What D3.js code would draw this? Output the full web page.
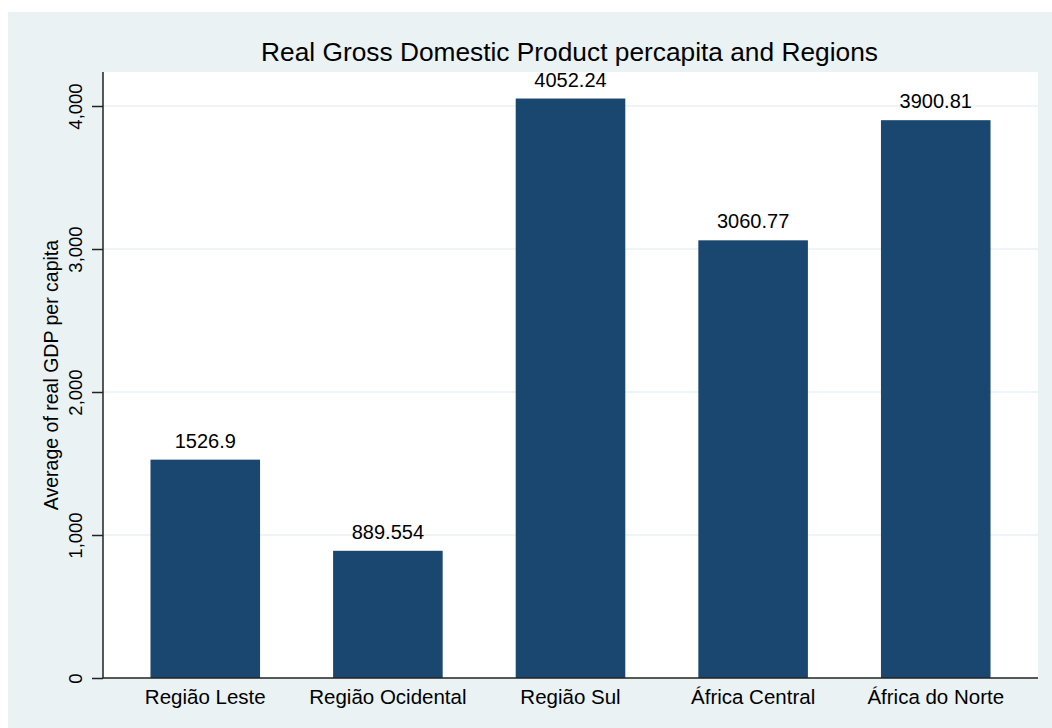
<!DOCTYPE html>
<html>
<head>
<meta charset="utf-8">
<script src="https://cdn.jsdelivr.net/npm/d3@7"></script>
<style>
html,body{margin:0;padding:0;background:#fff;}
svg{display:block;font-family:"Liberation Sans",Arial,sans-serif;}
</style>
</head>
<body>
<svg id="chart" width="1052" height="728"></svg>
<script>
const categories = ["Região Leste","Região Ocidental","Região Sul","África Central","África do Norte"];
const values = [1526.9, 889.554, 4052.24, 3060.77, 3900.81];
const valueLabels = ["1526.9","889.554","4052.24","3060.77","3900.81"];
const yTicks = [0, 1000, 2000, 3000, 4000];
const titleText = "Real Gross Domestic Product percapita and Regions";
const yTitleText = "Average of real GDP per capita";

const svg = d3.select("#chart");
const W = 1052, H = 728;
const plot = {left:103, right:1038, top:72, bottom:678};

svg.append("rect").attr("x",8).attr("y",12).attr("width",W-8).attr("height",H-12).attr("fill","#eaf2f3");
svg.append("rect").attr("x",plot.left).attr("y",plot.top)
  .attr("width",plot.right-plot.left).attr("height",plot.bottom-plot.top).attr("fill","#ffffff");

const x = d3.scaleBand().domain(categories).range([plot.left, plot.right])
  .paddingInner(0.4).paddingOuter(0.26);
const y = d3.scaleLinear().domain([0, 4000]).range([plot.bottom, plot.bottom - 4000*0.143]);

// gridlines
svg.append("g").selectAll("line").data(yTicks.filter(d=>d>0)).join("line")
  .attr("x1",plot.left).attr("x2",plot.right)
  .attr("y1",d=>y(d)).attr("y2",d=>y(d))
  .attr("stroke","#eaf2f3").attr("stroke-width",1.5);

// bars
svg.append("g").selectAll("rect").data(categories).join("rect")
  .attr("x",d=>x(d)).attr("width",x.bandwidth())
  .attr("y",(d,i)=>y(values[i])).attr("height",(d,i)=>y(0)-y(values[i]))
  .attr("fill","#1a476f");

// value labels
svg.append("g").selectAll("text").data(categories).join("text")
  .attr("x",d=>x(d)+x.bandwidth()/2)
  .attr("y",(d,i)=>y(values[i])-12)
  .attr("text-anchor","middle").attr("font-size",20).attr("fill","#000")
  .text((d,i)=>valueLabels[i]);

// y axis
const yAxis = d3.axisLeft(y).tickValues(yTicks).tickSize(11).tickPadding(0)
  .tickFormat(d3.format(","));
const gy = svg.append("g").attr("transform",`translate(${plot.left},0)`).call(yAxis);
gy.select(".domain").attr("d",`M0,${plot.top}V${plot.bottom}`).attr("stroke","#222").attr("stroke-width",1.5);
gy.selectAll(".tick line").attr("stroke","#222").attr("stroke-width",1.5);
gy.selectAll(".tick text")
  .attr("x",null).attr("dy",null)
  .attr("transform","translate(-21,0) rotate(-90)")
  .attr("text-anchor","middle").attr("font-size",18.5).attr("fill","#000")
  .attr("font-family","Liberation Sans, Arial, sans-serif");

// x axis
const xAxis = d3.axisBottom(x).tickSize(0).tickPadding(0);
const gx = svg.append("g").attr("transform",`translate(0,${plot.bottom})`).call(xAxis);
gx.select(".domain").attr("d",`M${plot.left},0H${plot.right}`).attr("stroke","#222").attr("stroke-width",1.5);
gx.selectAll(".tick text").attr("y",26).attr("dy",null)
  .attr("font-size",20.5).attr("fill","#000")
  .attr("font-family","Liberation Sans, Arial, sans-serif");

// y title
svg.append("text")
  .attr("transform",`translate(58,${(plot.top+plot.bottom)/2}) rotate(-90)`)
  .attr("text-anchor","middle").attr("font-size",19.5).attr("fill","#000")
  .text(yTitleText);

// title
svg.append("text").attr("x",(plot.left+plot.right)/2 - 1).attr("y",61)
  .attr("text-anchor","middle").attr("font-size",26.3).attr("fill","#000")
  .text(titleText);
</script>
</body>
</html>
